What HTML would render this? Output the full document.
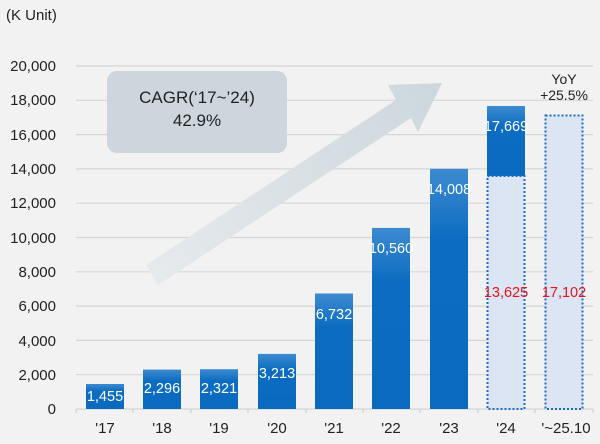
<!DOCTYPE html>
<html><head><style>body{margin:0;background:#f2f2f2}svg{display:block}</style></head><body>
<svg width="600" height="444" xmlns="http://www.w3.org/2000/svg" font-family="Liberation Sans, sans-serif">
<defs>
<linearGradient id="g" x1="0" y1="0" x2="0" y2="1"><stop offset="0" stop-color="#3d8bd0"/><stop offset="0.3" stop-color="#0b6cc1"/><stop offset="1" stop-color="#0a6ac0"/></linearGradient>
<linearGradient id="ar" gradientUnits="userSpaceOnUse" x1="150" y1="275" x2="430" y2="95"><stop offset="0" stop-color="#e6eaed"/><stop offset="1" stop-color="#cdd8de"/></linearGradient>
</defs>
<rect width="600" height="444" fill="#f2f2f2"/>
<text x="6" y="20" font-size="15" fill="#222">(K Unit)</text>
<g stroke="#d6d6d6" stroke-width="1.2">
<line x1="76" x2="593" y1="66" y2="66"/><line x1="76" x2="593" y1="100.3" y2="100.3"/><line x1="76" x2="593" y1="134.6" y2="134.6"/><line x1="76" x2="593" y1="168.9" y2="168.9"/><line x1="76" x2="593" y1="203.2" y2="203.2"/><line x1="76" x2="593" y1="237.5" y2="237.5"/><line x1="76" x2="593" y1="271.8" y2="271.8"/><line x1="76" x2="593" y1="306.1" y2="306.1"/><line x1="76" x2="593" y1="340.4" y2="340.4"/><line x1="76" x2="593" y1="374.7" y2="374.7"/><line x1="76" x2="593" y1="409" y2="409"/>
</g>
<g font-size="15" fill="#222" text-anchor="end">
<text x="56" y="71">20,000</text><text x="56" y="105">18,000</text><text x="56" y="140">16,000</text><text x="56" y="174">14,000</text><text x="56" y="208">12,000</text><text x="56" y="243">10,000</text><text x="56" y="277">8,000</text><text x="56" y="311">6,000</text><text x="56" y="346">4,000</text><text x="56" y="380">2,000</text><text x="56" y="414">0</text>
</g>
<polygon points="146,265 396,100 388,85 442,83 418,132 411,118 158,285" fill="url(#ar)"/>
<rect x="107" y="71" width="180" height="82" rx="10" fill="#ccd6dc"/>
<text x="197" y="103" font-size="17" text-anchor="middle" fill="#222">CAGR(‘17~’24)</text>
<text x="197" y="126" font-size="17" text-anchor="middle" fill="#222">42.9%</text>
<g fill="url(#g)">
<rect x="86" y="384" width="38" height="25"/><rect x="143" y="369.6" width="38" height="39.4"/><rect x="200" y="369.2" width="38" height="39.8"/><rect x="258" y="353.9" width="38" height="55.1"/><rect x="315" y="293.5" width="38" height="115.5"/><rect x="372" y="227.9" width="38" height="181.1"/><rect x="430" y="168.8" width="38" height="240.2"/><rect x="487" y="106" width="38" height="70"/>
</g>
<rect x="487.5" y="176" width="37" height="233" fill="#dce5f4" stroke="#1a6fc4" stroke-width="2" stroke-dasharray="2,2"/>
<rect x="545.5" y="115.5" width="37" height="293.5" fill="#dce5f4" stroke="#1a6fc4" stroke-width="2" stroke-dasharray="2,2"/>
<g font-size="14.5" fill="#fff" text-anchor="middle">
<text x="105" y="401">1,455</text><text x="162" y="393">2,296</text><text x="219" y="393">2,321</text><text x="277" y="378">3,213</text><text x="334" y="319">6,732</text><text x="391" y="253">10,560</text><text x="449" y="194">14,008</text><text x="506" y="131">17,669</text>
</g>
<g font-size="14.5" fill="#e8131b" text-anchor="middle"><text x="506" y="297">13,625</text><text x="564" y="297">17,102</text></g>
<text x="564" y="84" font-size="14" text-anchor="middle" fill="#222">YoY</text>
<text x="564" y="100" font-size="14" text-anchor="middle" fill="#222">+25.5%</text>
<g stroke="#ccc"><line x1="76" x2="76" y1="409" y2="413"/><line x1="133" x2="133" y1="409" y2="413"/><line x1="191" x2="191" y1="409" y2="413"/><line x1="248" x2="248" y1="409" y2="413"/><line x1="306" x2="306" y1="409" y2="413"/><line x1="363" x2="363" y1="409" y2="413"/><line x1="420" x2="420" y1="409" y2="413"/><line x1="478" x2="478" y1="409" y2="413"/><line x1="535" x2="535" y1="409" y2="413"/><line x1="593" x2="593" y1="409" y2="413"/></g>
<g font-size="15" fill="#222" text-anchor="middle">
<text x="105" y="433">'17</text><text x="162" y="433">'18</text><text x="219" y="433">'19</text><text x="277" y="433">'20</text><text x="334" y="433">'21</text><text x="391" y="433">'22</text><text x="449" y="433">'23</text><text x="506" y="433">'24</text><text x="566" y="433">'~25.10</text>
</g>
</svg>
</body></html>
